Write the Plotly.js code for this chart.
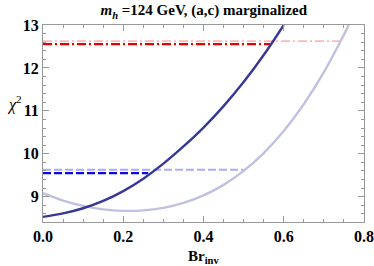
<!DOCTYPE html>
<html><head><meta charset="utf-8">
<script src="https://cdn.plot.ly/plotly-3.0.1.min.js"></script>
<style>html,body{margin:0;padding:0;background:#fff}</style>
</head><body><div id="chart" style="width:374px;height:266px"></div>
<script>
// Data
var brDark = [0, 0.05, 0.1, 0.15, 0.2, 0.25, 0.3, 0.35, 0.4, 0.45, 0.5, 0.55, 0.6];
var chiDark = [8.53, 8.61, 8.73, 8.90, 9.13, 9.42, 9.77, 10.17, 10.61, 11.11, 11.67, 12.30, 13.0];
var brLight = [0, 0.05, 0.1, 0.15, 0.2, 0.25, 0.3, 0.35, 0.4, 0.45, 0.5, 0.55, 0.6, 0.65, 0.7, 0.75, 0.762];
var chiLight = [9.08, 8.91, 8.785, 8.705, 8.67, 8.68, 8.74, 8.855, 9.03, 9.275, 9.60, 10.015, 10.53, 11.155, 11.90, 12.775, 13.0];
// Threshold lines: [level, Br where it meets the curve]
var blueDarkLevel = 9.55, blueDarkEnd = 0.262;
var blueLightLevel = 9.625, blueLightEnd = 0.500;
var redDarkLevel = 12.555, redDarkEnd = 0.566;
var redLightLevel = 12.625, redLightEnd = 0.742;
var xTicks = [0, 0.2, 0.4, 0.6, 0.8];
var xTickText = ['0.0', '0.2', '0.4', '0.6', '0.8'];
var yTicks = [9, 10, 11, 12, 13];

var traces = [
  {x: [0, redLightEnd], y: [redLightLevel, redLightLevel], mode: 'lines',
   line: {color: 'rgb(255,185,185)', width: 1.6, dash: '9px,3px,2px,3px'}},
  {x: [0, redDarkEnd], y: [redDarkLevel, redDarkLevel], mode: 'lines',
   line: {color: 'rgb(235,0,0)', width: 2.2, dash: '9px,3px,2px,3px'}},
  {x: [0, blueLightEnd], y: [blueLightLevel, blueLightLevel], mode: 'lines',
   line: {color: 'rgb(170,170,255)', width: 2, dash: '8px,3px'}},
  {x: [0, blueDarkEnd], y: [blueDarkLevel, blueDarkLevel], mode: 'lines',
   line: {color: 'rgb(10,10,225)', width: 2.2, dash: '8px,3px'}},
  {x: brLight, y: chiLight, mode: 'lines', line: {color: 'rgb(192,192,226)', width: 2.4, shape: 'spline'}},
  {x: brDark, y: chiDark, mode: 'lines', line: {color: 'rgb(55,55,150)', width: 2.4, shape: 'spline'}}
];

var tickFont = {family: 'Liberation Serif, Times New Roman, serif', size: 16, color: '#000', weight: 'bold'};
var layout = {
  width: 374, height: 266,
  margin: {l: 43, r: 10, t: 25, b: 44},
  showlegend: false,
  plot_bgcolor: '#fff', paper_bgcolor: '#fff',
  title: {text: '<b><i>m<sub>h</sub></i> =124 GeV, (a,c) marginalized</b>',
    font: {family: 'Liberation Serif, serif', size: 15, color: '#000'},
    x: 0.545, xanchor: 'center', y: 0.962, yanchor: 'middle'},
  xaxis: {range: [0, 0.8], tickvals: xTicks, ticktext: xTickText, ticks: 'inside', ticklen: 6,
    tickcolor: '#999', showgrid: false, zeroline: false, showline: true, linecolor: '#999', linewidth: 1,
    mirror: 'allticks', tickfont: tickFont,
    minor: {dtick: 0.05, ticklen: 3, tickcolor: '#999', ticks: 'inside', showgrid: false}},
  yaxis: {range: [8.41, 13], tickvals: yTicks, ticks: 'inside', ticklen: 6,
    tickcolor: '#999', showgrid: false, zeroline: false, showline: true, linecolor: '#999', linewidth: 1,
    mirror: 'allticks', tickfont: tickFont,
    minor: {dtick: 0.2, ticklen: 3, tickcolor: '#999', ticks: 'inside', showgrid: false}},
  annotations: [
    {text: '<i>χ</i><sup>2</sup>', xref: 'paper', yref: 'paper', x: -0.09, y: 0.6,
     xanchor: 'center', yanchor: 'middle', showarrow: false,
     font: {family: 'Liberation Serif, serif', size: 16, color: '#000'}},
    {text: '<b>Br<sub>inv</sub></b>', xref: 'paper', yref: 'paper', x: 0.5, y: -0.12,
     xanchor: 'center', yanchor: 'top', showarrow: false,
     font: {family: 'Liberation Serif, serif', size: 15, color: '#000'}}
  ]
};
Plotly.newPlot('chart', traces, layout, {displayModeBar: false, staticPlot: true});
</script></body></html>
